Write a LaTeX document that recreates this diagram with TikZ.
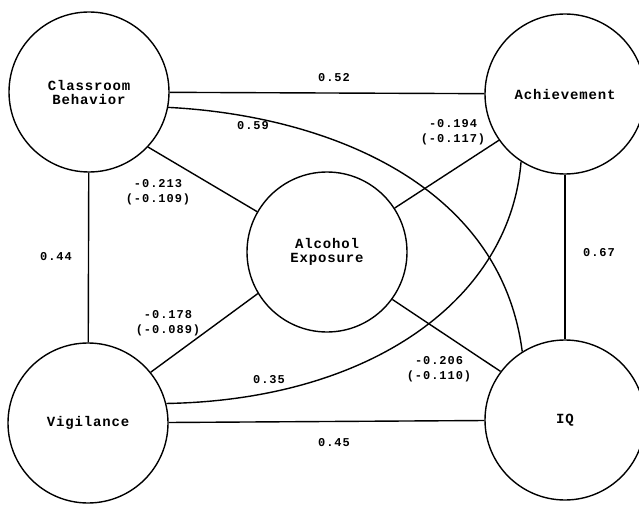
\documentclass[tikz,border=0pt]{standalone}
\usepackage{fontspec}
\newfontfamily\namefont{Liberation Mono}[LetterSpace=6]
\newfontfamily\coeffont{Liberation Mono}[LetterSpace=8]
\begin{document}
\begin{tikzpicture}[x=1pt,y=-1pt,line width=1.4pt,
  var/.style={draw,circle,minimum size=160pt,inner sep=0pt,align=center,
    font=\namefont\bfseries\fontsize{14}{14}\selectfont},
  coef/.style={align=center,inner sep=1pt,font=\coeffont\bfseries\fontsize{12}{15}\selectfont}]
  \useasboundingbox (0,0) rectangle (639,505);
  % latent variables
  \node[var] (cb) at (89,92) {Classroom\\Behavior};
  \node[var] (ach) at (565,94) {Achievement};
  \node[var] (alc) at (327,252) {Alcohol\\Exposure};
  \node[var] (vig) at (88,423) {Vigilance};
  \node[var] (iq) at (565,420) {IQ};
  % paths
  \draw (cb) -- (ach);
  \draw (cb) -- (vig);
  \draw (ach) -- (iq);
  \draw (vig) -- (iq);
  \draw (alc.150) -- (cb.-43);
  \draw (alc.33) -- (ach.-145);
  \draw (alc.211) -- (vig.39);
  \draw (alc.-36) -- (iq.143);
  \draw (cb.-11) .. controls (320,115) and (500,180) .. (iq.122);
  \draw (ach.-123) .. controls (510,300) and (370,400) .. (vig.14);
  % coefficients
  \node[coef] (c52) at (334,78) {0.52};
  \node[coef] (c59) at (253,126) {0.59};
  \node[coef] (c213) at (158,192) {-0.213\\(-0.109)};
  \node[coef] (c194) at (453,132) {-0.194\\(-0.117)};
  \node[coef] (c44) at (56,257) {0.44};
  \node[coef] (c67) at (599,253) {0.67};
  \node[coef] (c178) at (168,323) {-0.178\\(-0.089)};
  \node[coef] (c35) at (269,380) {0.35};
  \node[coef] (c206) at (439,369) {-0.206\\(-0.110)};
  \node[coef] (c45) at (334,443) {0.45};
\end{tikzpicture}
\end{document}
